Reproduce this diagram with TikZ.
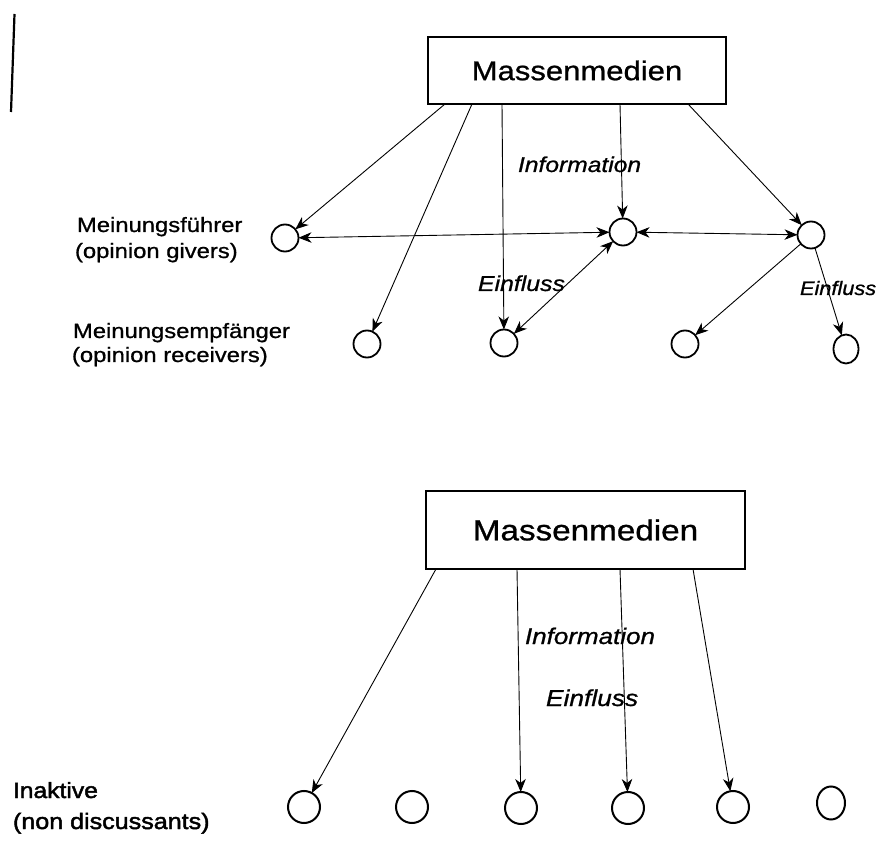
\documentclass[tikz,border=0pt]{standalone}
\usepackage{fontspec}
\setmainfont{Liberation Sans}[FakeStretch=1.15,FakeBold=0.9]
\newfontfamily\heavyfont{Liberation Sans}[FakeStretch=1.12,FakeBold=2]
\usetikzlibrary{arrows.meta,shapes.geometric}
\tikzset{
  every node/.style={inner sep=0pt, outer sep=0pt},
  medbox/.style={draw, line width=1.2pt, rectangle},
  tip/.tip={Stealth[length=13pt,width=10.5pt,inset=4pt]},
  arr/.style={line width=0.9pt, -tip},
  darr/.style={line width=0.9pt, tip-tip},
  topdot/.style={draw, circle, line width=1.8pt, minimum size=27pt},
  botdot/.style={draw, circle, line width=2pt, minimum size=32pt},
  lbl/.style={anchor=base west, font=\fontsize{20.7}{24}\selectfont},
  itl/.style={anchor=base west, font=\fontsize{#1}{#1}\selectfont\itshape},
}
\begin{document}
\begin{tikzpicture}[x=1pt,y=-1pt]
\useasboundingbox (0,0) rectangle (876,866);

% scan mark at the left edge
\draw[line width=2.2pt] (14.5,14) -- (11,112);

% ---------- upper diagram ----------
\node[medbox, minimum width=298pt, minimum height=67pt,
      font=\fontsize{27}{30}\selectfont] (mm1) at (577,70.5) {Massenmedien};

\node[topdot] (g1) at (285,238) {};
\node[topdot] (g2) at (623,232) {};
\node[topdot] (g3) at (811,235) {};

\node[topdot] (r1) at (367,344) {};
\node[topdot] (r2) at (504,343) {};
\node[topdot] (r3) at (685,344) {};
\node[draw, ellipse, line width=1.8pt, minimum width=25pt, minimum height=29pt] (r4) at (846,349) {};

\draw[arr] ([xshift=17pt]mm1.south west) -- (g1);
\draw[arr] ([xshift=44pt]mm1.south west) -- (r1);
\draw[arr] ([xshift=74pt]mm1.south west) -- (r2);
\draw[arr] ([xshift=192pt]mm1.south west) -- (g2);
\draw[arr] ([xshift=260pt]mm1.south west) -- (g3);
\draw[darr] (g1) -- (g2);
\draw[darr] (g2) -- (g3);
\draw[darr] (g2) -- (r2);
\draw[arr] (g3) -- (r3);
\draw[arr] (g3) -- (r4);

\node[lbl] (lg1) at (77,232) {Meinungsführer};
\node[lbl] (lg2) at (75,258) {(opinion givers)};
\node[lbl] (lr1) at (73,338) {Meinungsempfänger};
\node[lbl] (lr2) at (72,362) {(opinion receivers)};

\node[itl=21.4] (info1) at (518,172) {Information};
\node[itl=21.6] (einf1) at (478,291) {Einfluss};
\node[itl=19.5, xscale=0.97] (einf2) at (800,295) {Einfluss};

% ---------- lower diagram ----------
\node[medbox, minimum width=319pt, minimum height=78pt,
      font=\fontsize{28.9}{32}\selectfont] (mm2) at (585.5,530) {Massenmedien};

\node[botdot] (b1) at (304,807) {};
\node[botdot] (b2) at (412,807) {};
\node[botdot] (b3) at (521,808) {};
\node[botdot] (b4) at (628,808) {};
\node[botdot] (b5) at (733,807) {};
\node[draw, ellipse, line width=2pt, minimum width=28pt, minimum height=33pt] (b6) at (831,803) {};

\draw[arr] ([xshift=10pt]mm2.south west) -- (b1);
\draw[arr] ([xshift=91pt]mm2.south west) -- (b3);
\draw[arr] ([xshift=194pt]mm2.south west) -- (b4);
\draw[arr] ([xshift=267pt]mm2.south west) -- (b5);

\node[itl=22.6] (info2) at (525,644) {Information};
\node[itl=22.9] (einf3) at (546,706) {Einfluss};

\node[anchor=base west, font=\heavyfont\fontsize{22}{26}\selectfont] (ia1) at (13,798) {Inaktive};
\node[anchor=base west, font=\heavyfont\fontsize{22.4}{26}\selectfont] (ia2) at (13,829) {(non discussants)};
\end{tikzpicture}
\end{document}
